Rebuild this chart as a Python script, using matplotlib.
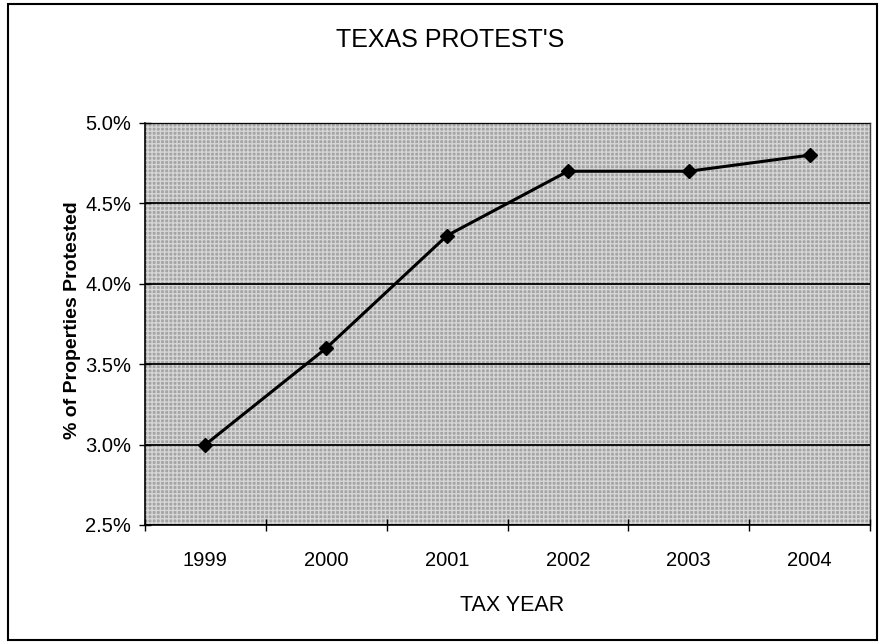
import matplotlib.pyplot as plt
import matplotlib.patches as patches
from matplotlib.ticker import FuncFormatter, MultipleLocator

plt.rcParams['font.family'] = ['Liberation Sans', 'DejaVu Sans']

years = ["1999", "2000", "2001", "2002", "2003", "2004"]
pct_protested = [3.0, 3.6, 4.3, 4.7, 4.7, 4.8]

fig = plt.figure(figsize=(8.8, 6.44), dpi=100)
ax = fig.add_axes([145 / 880, 1 - 525 / 644, (870 - 145) / 880, (525 - 123) / 644])

# chart frame around the whole figure
fig.patches.append(patches.Rectangle((8 / 880, 4 / 644), 869 / 880, 636 / 644,
                                     transform=fig.transFigure, fill=False,
                                     edgecolor="black", linewidth=1.5))

# speckled grey plot area
ax.set_facecolor("#a4a4a4")
ax.patch.set_hatch("++++")
ax.patch.set_edgecolor("#d6d6d6")
ax.patch.set_linewidth(0)

x = list(range(len(years)))
ax.plot(x, pct_protested, color="black", linewidth=2.2, marker="D",
        markersize=7.5, zorder=3)

ax.set_xlim(-0.5, len(years) - 0.5)
ax.set_ylim(2.5, 5.0)
ax.yaxis.set_major_locator(MultipleLocator(0.5))
ax.yaxis.set_major_formatter(FuncFormatter(lambda v, p: f"{v:.1f}%"))
ax.grid(axis="y", color="black", linewidth=1.3)
ax.set_axisbelow(False)

ax.set_xticks([i - 0.5 for i in range(len(years) + 1)])
ax.set_xticklabels([])
ax.set_xticks(x, minor=True)
ax.set_xticklabels(years, minor=True)
ax.tick_params(axis="x", which="major", direction="inout", length=8, width=1)
ax.tick_params(axis="x", which="minor", length=0, pad=19, labelsize=14.5)
ax.tick_params(axis="y", direction="inout", length=8, width=1, labelsize=14.5, pad=6)

for side in ["left", "bottom"]:
    ax.spines[side].set_linewidth(1.2)
for side in ["top", "right"]:
    ax.spines[side].set_color("#444444")
    ax.spines[side].set_linewidth(1)

ax.set_xlabel("TAX YEAR", fontsize=15.5)
ax.xaxis.set_label_coords((512 - 145) / (870 - 145), -(595 - 525) / (525 - 123))
ax.set_ylabel("% of Properties Protested", fontsize=14, fontweight="bold")
ax.yaxis.set_label_coords(-(145 - 81) / (870 - 145), (525 - 320) / (525 - 123))
fig.text(450 / 880, 1 - 40 / 644, "TEXAS PROTEST'S", fontsize=18,
         ha="center", va="center")

fig.savefig("out.png", dpi=100)
